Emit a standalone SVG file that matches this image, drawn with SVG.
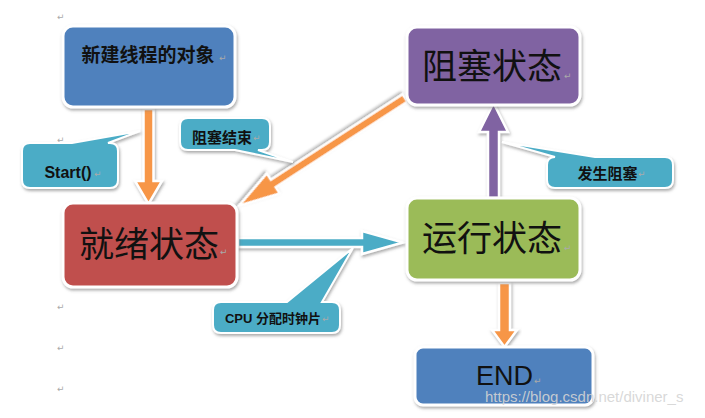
<svg xmlns="http://www.w3.org/2000/svg" width="705" height="418" viewBox="0 0 705 418">
<defs>
<filter id="sh" x="-20%" y="-20%" width="140%" height="150%">
<feDropShadow dx="1" dy="2" stdDeviation="1.5" flood-color="#666" flood-opacity="0.55"/>
</filter>
</defs>
<style>
.box{stroke:#fff;stroke-width:3;filter:url(#sh)}
.big{font-family:"Noto Sans CJK SC","Noto Sans",sans-serif;font-size:35px;fill:#111;text-anchor:middle}
.lbl{font-family:"Liberation Sans","Noto Sans CJK SC",sans-serif;font-weight:bold;fill:#111;text-anchor:middle}
.call{fill:#4BACC6;stroke:#fff;stroke-width:2;filter:url(#sh)}
.arr{stroke:#fff;stroke-width:2.5;stroke-linejoin:miter;filter:url(#sh)}
.pm{font-family:"DejaVu Sans",sans-serif;font-size:9px;fill:#aaa}
</style>
<rect width="705" height="418" fill="#fff"/>

<g id="marks">
<text class="pm" x="57" y="20">↵</text>
<text class="pm" x="57" y="143">↵</text>
<text class="pm" x="57" y="310">↵</text>
<text class="pm" x="57" y="351">↵</text>
<text class="pm" x="57" y="392">↵</text>
</g>

<g id="connectors">
<polygon class="arr" fill="#F79646" points="143.5,109 153.5,109 153.5,181 162,181 148.5,204 135,181 143.5,181"/>
<g transform="translate(405,98) rotate(147.03)">
<polygon class="arr" fill="#F79646" points="0,-4.5 157,-4.5 157,-12 198,0 157,12 157,4.5 0,4.5"/>
</g>
<polygon class="arr" fill="#4BACC6" points="238,238 362,238 362,231 403,242.5 362,254 362,247 238,247"/>
<polygon class="arr" fill="#8064A2" points="488,198 488,132 479,132 493.5,103 508,132 499,132 499,198"/>
<polygon class="arr" fill="#F79646" points="499,283 510,283 510,330 517,330 504.5,347 492,330 499,330"/>
</g>

<g id="node-new">
<rect class="box" x="63" y="26" width="172" height="81" rx="10" fill="#4F81BD"/>
<text class="lbl" x="148" y="62" font-size="19" font-family="Noto Sans CJK SC,sans-serif">新建线程的对象</text>
<text class="pm" x="219" y="61">↵</text>
</g>

<g id="node-blocked">
<rect class="box" x="407" y="27" width="173" height="78" rx="10" fill="#8064A2"/>
<text class="big" x="492" y="79">阻塞状态</text>
<text class="pm" x="564" y="79">↵</text>
</g>

<g id="node-ready">
<rect class="box" x="63" y="203" width="174" height="84" rx="10" fill="#C0504D"/>
<text class="big" x="149" y="257">就绪状态</text>
<text class="pm" x="220" y="255">↵</text>
</g>

<g id="node-running">
<rect class="box" x="407" y="198" width="173" height="82" rx="10" fill="#9BBB59"/>
<text class="big" x="492" y="251">运行状态</text>
<text class="pm" x="564" y="251">↵</text>
</g>

<g id="node-end">
<rect class="box" x="415" y="347" width="178" height="58" rx="8" fill="#4F81BD"/>
<text x="504.5" y="385" font-family="Liberation Sans,sans-serif" font-size="27" fill="#111" text-anchor="middle">END</text>
<text class="pm" x="534" y="384">↵</text>
</g>

<g id="label-start">
<path class="call" d="M30,143 L72,143 L140,131 L108,143 L110,143 Q118,143 118,151 L118,180 Q118,188 110,188 L30,188 Q22,188 22,180 L22,151 Q22,143 30,143 Z"/>
<text class="lbl" x="68" y="178" font-size="16">Start()</text>
<text class="pm" x="94" y="177">↵</text>
</g>

<g id="label-unblock">
<path class="call" d="M188,118 L262,118 Q270,118 270,126 L270,142 Q270,150 262,150 L258,150 L293,162 L235,150 L188,150 Q180,150 180,142 L180,126 Q180,118 188,118 Z"/>
<text class="lbl" x="222" y="143" font-size="15" font-family="Noto Sans CJK SC,sans-serif">阻塞结束</text>
<text class="pm" x="253" y="141">↵</text>
</g>

<g id="label-block">
<path class="call" d="M555,157 L502,142 L595,157 L665,157 Q673,157 673,165 L673,180 Q673,188 665,188 L555,188 Q547,188 547,180 L547,165 Q547,157 555,157 Z"/>
<text class="lbl" x="607.5" y="179" font-size="15" font-family="Noto Sans CJK SC,sans-serif">发生阻塞</text>
<text class="pm" x="638" y="177">↵</text>
</g>

<g id="label-cpu">
<path class="call" d="M221,302 L287,302 L353,248 L322,302 L332,302 Q340,302 340,310 L340,325 Q340,333 332,333 L221,333 Q213,333 213,325 L213,310 Q213,302 221,302 Z"/>
<text class="lbl" x="273" y="323" font-size="13" font-family="Noto Sans CJK SC,sans-serif">CPU 分配时钟片</text>
<text class="pm" x="322" y="322">↵</text>
</g>

<text x="485" y="402" font-family="Liberation Sans,sans-serif" font-size="15" fill="#d4d4d4" fill-opacity="0.9">https://blog.csdn.net/diviner_s</text>
</svg>
